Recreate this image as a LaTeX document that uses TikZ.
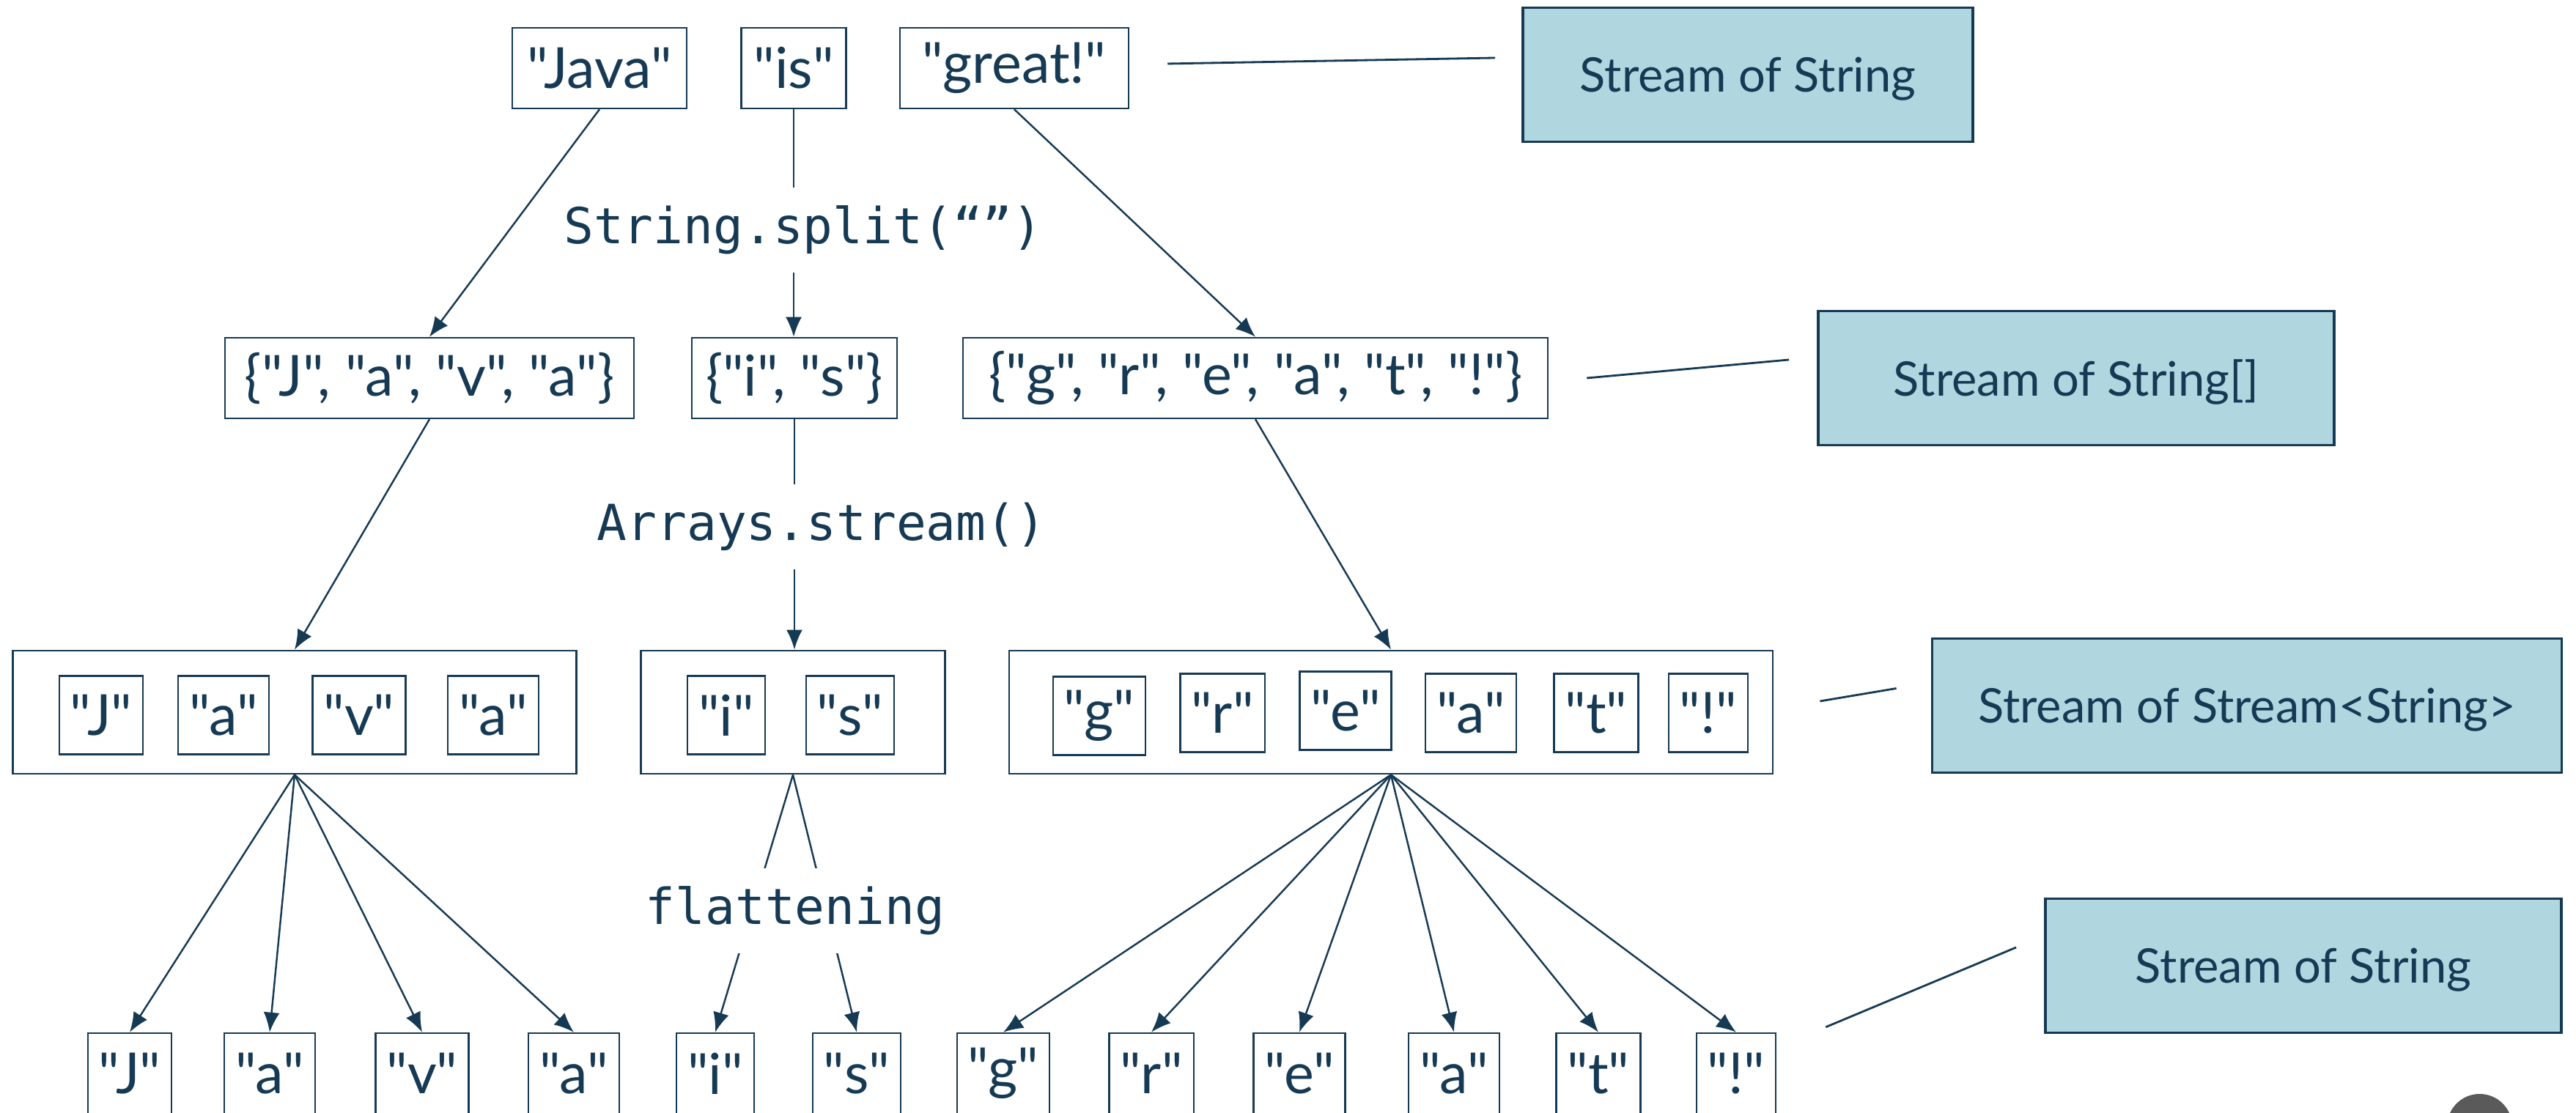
\documentclass[tikz,border=0pt]{standalone}
\usepackage{fontspec}
\newfontfamily\latofont{Lato}
\setmonofont{DejaVu Sans Mono}
\usetikzlibrary{positioning,arrows.meta,calc}
\definecolor{navy}{RGB}{23,58,84}
\definecolor{paleblue}{RGB}{176,215,224}
\definecolor{knobgray}{RGB}{90,90,90}

\begin{document}
\begin{tikzpicture}[x=1cm, y=1cm]
\tikzset{
  strbox/.style={rectangle, draw=navy, line width=0.7pt, text=navy, inner sep=0pt,
    minimum height=1.1cm, font=\latofont\fontsize{22}{26}\selectfont},
  chbox/.style={strbox, inner xsep=0.15cm, minimum height=1.07cm},
  grpbox/.style={rectangle, draw=navy, line width=0.8pt, minimum height=1.68cm},
  typebox/.style={rectangle, draw=navy, line width=1.1pt, fill=paleblue, text=navy,
    text depth=0pt, minimum width=7.04cm, minimum height=1.83cm,
    font=\latofont\fontsize{18.5}{22}\selectfont},
  oplbl/.style={fill=white, text=navy, inner xsep=2pt, inner ysep=0.25cm,
    font=\ttfamily\fontsize{19.3}{22}\selectfont},
  arr/.style={-{Latex[length=2.7mm,width=2.2mm]}, line width=0.7pt, navy},
  tie/.style={line width=0.8pt, navy}
}
\useasboundingbox (0,0) rectangle (35.15,15.19);
% words
\node[strbox, minimum width=2.38cm] (java)  at (8.18,14.26)  {"Java"};
\node[strbox, minimum width=1.43cm] (is)    at (10.83,14.26) {"is"};
\node[strbox, minimum width=3.12cm] (great) at (13.84,14.26) {"great!"};
\node[typebox, minimum width=6.14cm] (ts1) at (23.85,14.17) {Stream of String};
% arrays
\node[strbox, minimum width=5.58cm] (jarr) at (5.86,10.03)  {\{"J", "a", "v", "a"\}};
\node[strbox, minimum width=2.80cm] (iarr) at (10.84,10.03) {\{"i", "s"\}};
\node[strbox, minimum width=7.98cm] (garr) at (17.13,10.03) {\{"g", "r", "e", "a", "t", "!"\}};
\node[typebox] (ts2) at (28.33,10.03) {Stream of String[]};
% streams of streams
\node[grpbox, minimum width=7.69cm]  (grp1) at (4.02,5.47)  {};
\node[grpbox, minimum width=4.15cm]  (grp2) at (10.82,5.47) {};
\node[grpbox, minimum width=10.42cm] (grp3) at (18.98,5.47) {};
\node[chbox] (s1)  at (1.38,5.43)  {"J"};
\node[chbox] (s2)  at (3.05,5.43)  {"a"};
\node[chbox] (s3)  at (4.90,5.43)  {"v"};
\node[chbox] (s4)  at (6.73,5.43)  {"a"};
\node[chbox] (s5)  at (9.91,5.43)  {"i"};
\node[chbox] (s6)  at (11.60,5.43) {"s"};
\node[chbox] (s7)  at (15.00,5.42) {"g"};
\node[chbox] (s8)  at (16.68,5.46) {"r"};
\node[chbox] (s9)  at (18.36,5.49) {"e"};
\node[chbox] (s10) at (20.07,5.46) {"a"};
\node[chbox] (s11) at (21.78,5.46) {"t"};
\node[chbox] (s12) at (23.31,5.46) {"!"};
\node[typebox, minimum width=8.59cm] (ts3) at (30.66,5.56) {Stream of Stream<String>};
% flat stream
\node[chbox, minimum height=1.1cm] (b1)  at (1.77,0.54)  {"J"};
\node[chbox, minimum height=1.1cm] (b2)  at (3.68,0.54)  {"a"};
\node[chbox, minimum height=1.1cm] (b3)  at (5.76,0.54)  {"v"};
\node[chbox, minimum height=1.1cm] (b4)  at (7.83,0.54)  {"a"};
\node[chbox, minimum height=1.1cm] (b5)  at (9.76,0.54)  {"i"};
\node[chbox, minimum height=1.1cm] (b6)  at (11.69,0.54) {"s"};
\node[chbox, minimum height=1.1cm] (b7)  at (13.69,0.54) {"g"};
\node[chbox, minimum height=1.1cm] (b8)  at (15.71,0.54) {"r"};
\node[chbox, minimum height=1.1cm] (b9)  at (17.73,0.54) {"e"};
\node[chbox, minimum height=1.1cm] (b10) at (19.84,0.54) {"a"};
\node[chbox, minimum height=1.1cm] (b11) at (21.81,0.54) {"t"};
\node[chbox, minimum height=1.1cm] (b12) at (23.69,0.54) {"!"};
\node[typebox] (ts4) at (31.43,2.01) {Stream of String};
% arrows
\draw[arr] (java.south) -- (jarr.north);
\draw[arr] (is.south) -- (is.south |- iarr.north);
\draw[arr] (great.south) -- (garr.north);
\draw[arr] (jarr.south) -- (grp1.north);
\draw[arr] (iarr.south) -- (iarr.south |- grp2.north);
\draw[arr] (garr.south) -- (grp3.north);
\draw[arr] (grp1.south) -- (b1.north);
\draw[arr] (grp1.south) -- (b2.north);
\draw[arr] (grp1.south) -- (b3.north);
\draw[arr] (grp1.south) -- (b4.north);
\draw[arr] (grp2.south) -- (b5.north);
\draw[arr] (grp2.south) -- (b6.north);
\draw[arr] (grp3.south) -- (b7.north);
\draw[arr] (grp3.south) -- (b8.north);
\draw[arr] (grp3.south) -- (b9.north);
\draw[arr] (grp3.south) -- (b10.north);
\draw[arr] (grp3.south) -- (b11.north);
\draw[arr] (grp3.south) -- (b12.north);
% operations, on top of the arrows
\node[oplbl] (split)  at (10.96,12.05) {String.split(“”)};
\node[oplbl] (arrays) at (11.21,8.00)  {Arrays.stream()};
\node[oplbl] (flat)   at (10.85,2.76)  {flattening};
% ties to the type labels
\draw[tie] ($(great.east)+(0.52,0.06)$) -- ($(ts1.west)+(-0.36,0.23)$);
\draw[tie] ($(garr.east)+(0.52,0)$) -- ($(ts2.west)+(-0.38,0.25)$);
\draw[tie] ($(grp3.east)+(0.63,0.15)$) -- ($(ts3.west)+(-0.47,0.235)$);
\draw[tie] ($(b12.north east)+(0.67,0.07)$) -- ($(ts4.west)+(-0.38,0.25)$);
\fill[knobgray] (33.835,-0.185) circle (0.445);
\end{tikzpicture}
\end{document}
